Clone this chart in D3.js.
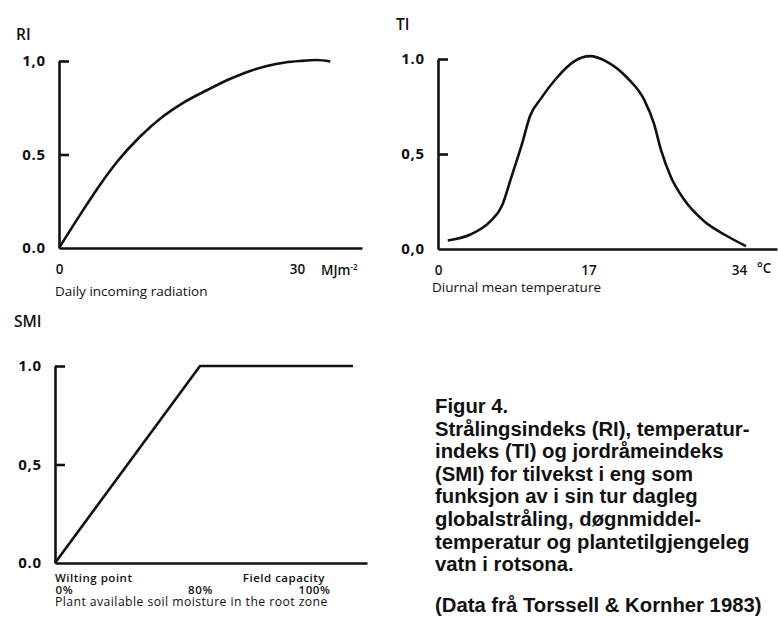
<!DOCTYPE html>
<html>
<head>
<meta charset="utf-8">
<script src="https://cdn.jsdelivr.net/npm/d3@7"></script>
<style>
  body { margin: 0; background: #fff; }
  svg { display: block; }
  .lbl { font-family: "Open Sans", sans-serif; fill: #111; }
  .cap { font-family: "Liberation Sans", Arial, sans-serif; font-weight: bold; fill: #111; }
</style>
</head>
<body>
<svg id="chart" width="778" height="621"></svg>
<script>
// RI - radiation index vs daily incoming radiation (MJ m-2)
const riX = [0, 3.0, 5.2, 7.3, 10.2, 12.7, 15.6, 18.7, 21.6, 24.1, 26.2, 28.5, 30.4, 32.5, 34.2];
const riY = [0, 0.20, 0.34, 0.46, 0.595, 0.69, 0.775, 0.845, 0.905, 0.947, 0.973, 0.992, 1.0, 1.005, 0.997];
const riTicks = [0, 30];
const riYLabels = ['1,0', '0.5', '0.0'];

// TI - temperature index vs diurnal mean temperature (°C)
const tiX = [1.1, 3.6, 5.9, 7.2, 8.3, 9.5, 10.4, 11.6, 13.4, 15.3, 17.2, 19.1, 21.4, 23.3, 24.4, 25.2, 26.3, 27.8, 30.1, 32.4, 34.8];
const tiY = [0.045, 0.075, 0.145, 0.225, 0.38, 0.555, 0.70, 0.79, 0.90, 0.985, 1.015, 0.985, 0.90, 0.785, 0.66, 0.52, 0.38, 0.26, 0.145, 0.075, 0.015];
const tiTicks = [0, 17, 34];
const tiYLabels = ['1.0', '0,5', '0,0'];

// SMI - soil moisture index vs plant available soil moisture (%)
const smiX = [0, 80, 107.5];
const smiY = [0, 1, 1];
const smiTicks = [0, 80, 100];
const smiYLabels = ['1.0', '0,5', '0.0'];

const captionLines = [
    'Figur 4.',
    'Strålingsindeks (RI), temperatur-',
    'indeks (TI) og jordråmeindeks',
    '(SMI) for tilvekst i eng som',
    'funksjon av i sin tur dagleg',
    'globalstråling, døgnmiddel-',
    'temperatur og plantetilgjengeleg',
    'vatn i rotsona.'
];
const sourceLine = '(Data frå Torssell & Kornher 1983)';

const svg = d3.select('#chart');

function drawPanel(opts) {
    const { x, y, xs, ys, yLabels, xTicks, xFormat, name, nameX, nameY } = opts;
    const g = svg.append('g');

    // y axis: ticks point inward, labels on the left
    const yAxis = d3.axisLeft(y)
        .tickValues([1, 0.5, 0])
        .tickSizeInner(-10)
        .tickSizeOuter(0)
        .tickPadding(13)
        .tickFormat((d, i) => yLabels[i]);
    const ga = g.append('g')
        .attr('class', 'y-axis')
        .attr('transform', `translate(${x.range()[0]},0)`)
        .call(yAxis);
    ga.selectAll('path, line').attr('stroke', '#111').attr('stroke-width', 2.6);
    ga.selectAll('.tick line').filter(d => d === 0).remove();
    ga.selectAll('text')
        .attr('font-family', '"Open Sans", sans-serif')
        .attr('font-size', 15)
        .attr('font-weight', 700)
        .attr('letter-spacing', 0.8)
        .attr('fill', '#111');

    // x axis
    const xAxis = d3.axisBottom(x)
        .tickValues(xTicks)
        .tickSize(0)
        .tickPadding(opts.xPad || 16)
        .tickFormat(xFormat || (d => d));
    const gx = g.append('g')
        .attr('class', 'x-axis')
        .attr('transform', `translate(0,${y(0)})`)
        .call(xAxis);
    gx.select('.domain').attr('stroke', '#111').attr('stroke-width', 2.6);
    gx.selectAll('text')
        .attr('font-family', '"Open Sans", sans-serif')
        .attr('font-size', opts.xFont || 13.5)
        .attr('font-weight', 600)
        .attr('letter-spacing', opts.xSpacing || 0)
        .attr('fill', '#111');

    // curve
    const pts = xs.map((v, i) => [v, ys[i]]);
    g.append('path')
        .datum(pts)
        .attr('fill', 'none')
        .attr('stroke', '#111')
        .attr('stroke-width', 2.6)
        .attr('stroke-linejoin', 'round')
        .attr('d', d3.line()
            .x(d => x(d[0]))
            .y(d => y(d[1]))
            .curve(opts.curve || d3.curveLinear));

    g.append('text')
        .attr('class', 'lbl')
        .attr('x', nameX).attr('y', nameY)
        .attr('font-size', 15.5)
        .attr('font-weight', 600)
        .text(name);
    return g;
}

// panel RI
const xRI = d3.scaleLinear().domain([0, 38.2]).range([59, 362]);
const yRI = d3.scaleLinear().domain([0, 1]).range([248, 61]);
const gRI = drawPanel({
    x: xRI, y: yRI, xs: riX, ys: riY, yLabels: riYLabels, xTicks: riTicks,
    name: 'RI', nameX: 16, nameY: 40, curve: d3.curveMonotoneX
});
const mj = gRI.append('text').attr('class', 'lbl')
    .attr('x', 321).attr('y', 275).attr('font-size', 13.5).attr('font-weight', 600);
mj.append('tspan').text('MJm');
mj.append('tspan').attr('dy', -5).attr('font-size', 8).text('-2');
gRI.append('text').attr('class', 'lbl')
    .attr('x', 55).attr('y', 296).attr('font-size', 13.5)
    .text('Daily incoming radiation');

// panel TI
const xTI = d3.scaleLinear().domain([0, 38.3]).range([438, 777]);
const yTI = d3.scaleLinear().domain([0, 1]).range([249, 59]);
const gTI = drawPanel({
    x: xTI, y: yTI, xs: tiX, ys: tiY, yLabels: tiYLabels, xTicks: tiTicks,
    name: 'TI', nameX: 396, nameY: 30, curve: d3.curveMonotoneX
});
gTI.append('text').attr('class', 'lbl')
    .attr('x', 757).attr('y', 273).attr('font-size', 13.5).attr('font-weight', 600)
    .text('°C');
gTI.append('text').attr('class', 'lbl')
    .attr('x', 432).attr('y', 292).attr('font-size', 13.5)
    .text('Diurnal mean temperature');

// panel SMI
const xSMI = d3.scaleLinear().domain([0, 80, 100, 110]).range([55, 200, 311, 367]);
const ySMI = d3.scaleLinear().domain([0, 1]).range([563, 366]);
const gSMI = drawPanel({
    x: xSMI, y: ySMI, xs: smiX, ys: smiY, yLabels: smiYLabels, xTicks: smiTicks,
    xFormat: d => d + '%', xPad: 22.5, xFont: 11.5, xSpacing: 0.6,
    name: 'SMI', nameX: 14, nameY: 327
});
gSMI.selectAll('.x-axis .tick text').filter(d => d === 0).attr('text-anchor', 'start');
gSMI.selectAll('.x-axis .tick text').filter(d => d === 100).attr('dx', 3);
gSMI.append('text').attr('class', 'lbl')
    .attr('x', 55).attr('y', 582).attr('font-size', 11.5).attr('font-weight', 600)
    .attr('letter-spacing', 0.5)
    .text('Wilting point');
gSMI.append('text').attr('class', 'lbl')
    .attr('x', 325).attr('y', 582).attr('font-size', 11.5).attr('font-weight', 600)
    .attr('letter-spacing', 0.5)
    .attr('text-anchor', 'end')
    .text('Field capacity');
gSMI.append('text').attr('class', 'lbl')
    .attr('x', 55).attr('y', 606).attr('font-size', 12.2)
    .attr('letter-spacing', 0.45)
    .text('Plant available soil moisture in the root zone');

// caption
const cap = svg.append('g').attr('class', 'cap').attr('font-size', 20.3);
cap.selectAll('text.line')
    .data(captionLines)
    .enter()
    .append('text')
    .attr('class', 'line')
    .attr('x', 435)
    .attr('y', (d, i) => 413 + i * 22.6)
    .text(d => d);
cap.append('text')
    .attr('x', 435).attr('y', 612)
    .text(sourceLine);
</script>
</body>
</html>
